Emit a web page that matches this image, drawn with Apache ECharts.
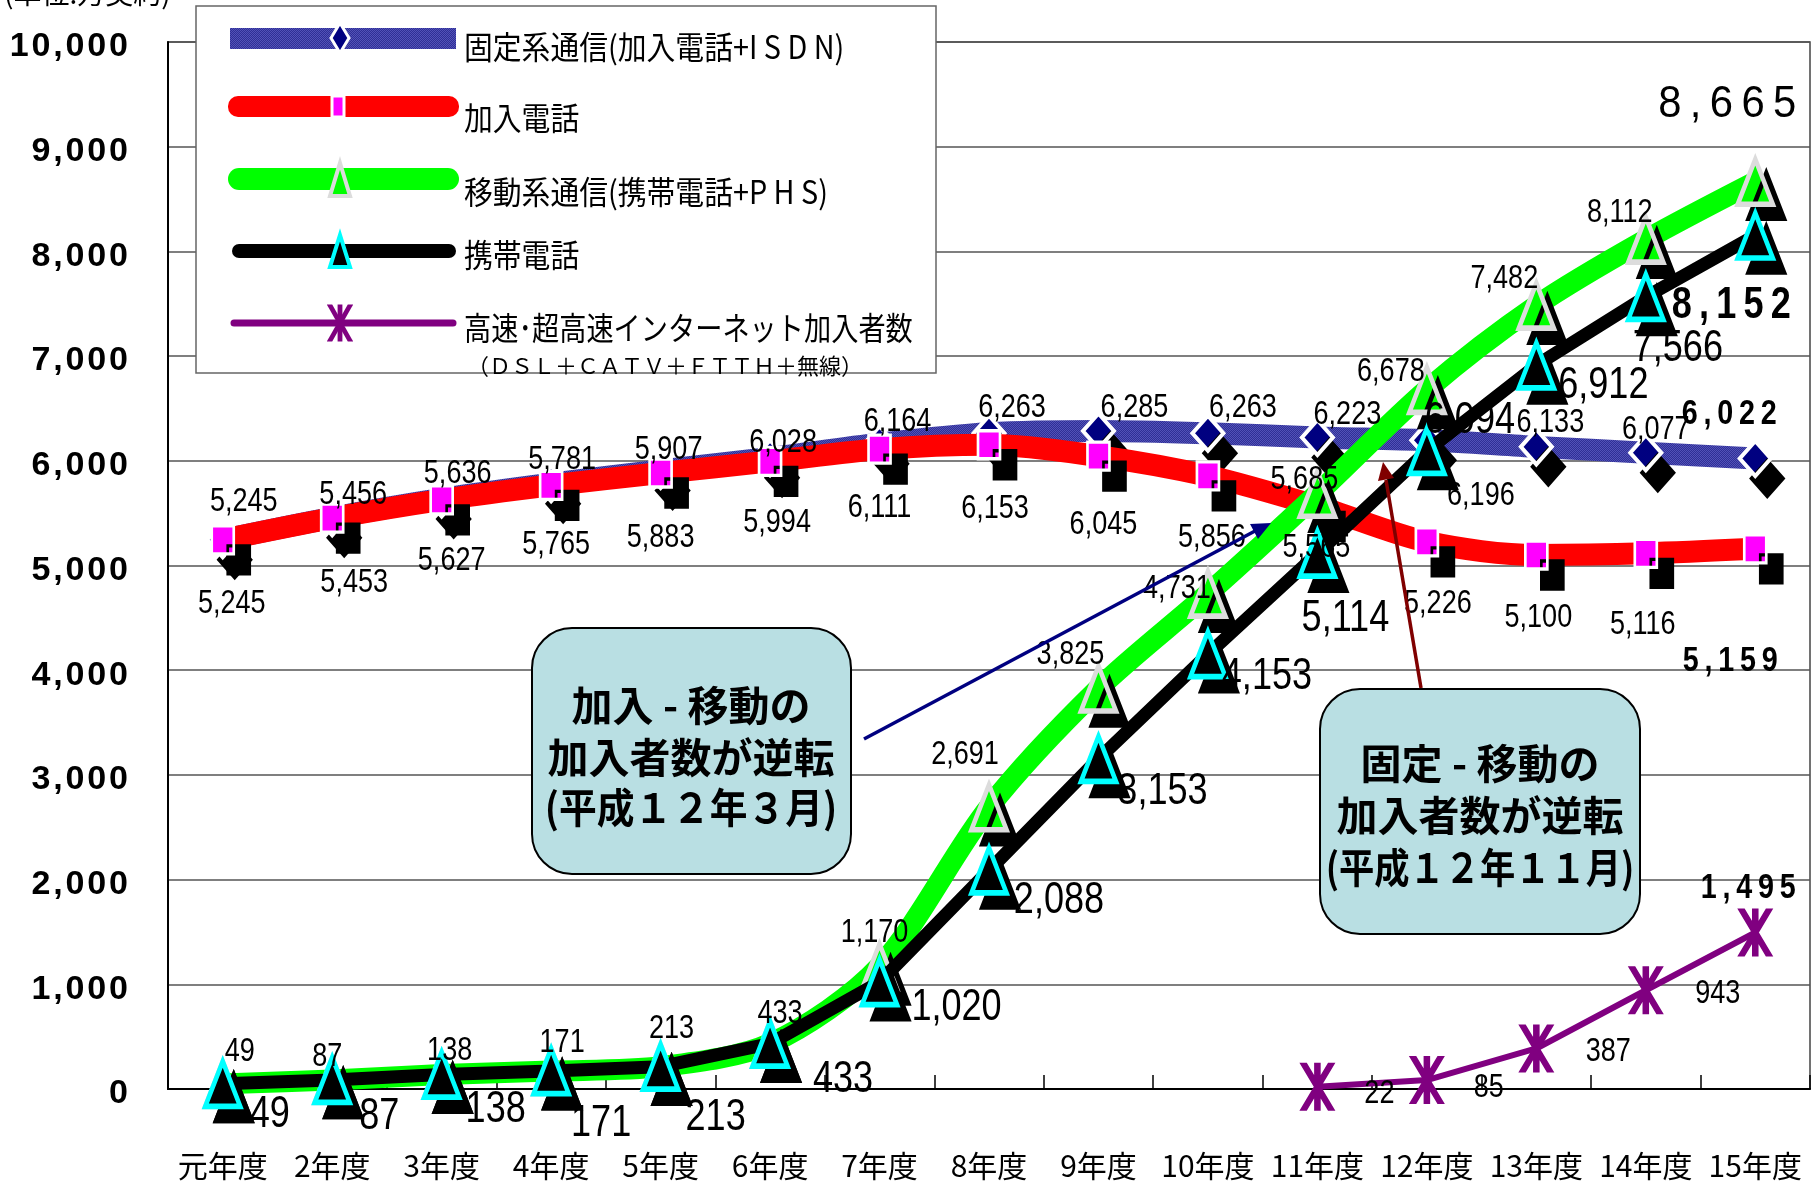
<!DOCTYPE html>
<html>
<head>
<meta charset="utf-8">
<script src="https://cdn.jsdelivr.net/npm/echarts@6/dist/echarts.min.js"></script>
<style>
html, body { margin: 0; padding: 0; background: #fff; }
#chart { width: 1818px; height: 1184px; }
</style>
</head>
<body>
<div id="chart"></div>
<script>
// Fiscal years (平成元年度 - 15年度)
const categories = ['元年度', '2年度', '3年度', '4年度', '5年度', '6年度', '7年度', '8年度',
  '9年度', '10年度', '11年度', '12年度', '13年度', '14年度', '15年度'];

// Subscribers, 万契約
const fixedTotal = [5245, 5456, 5636, 5781, 5907, 6028, 6164, 6263, 6285, 6263, 6223, 6196, 6133, 6077, 6022];
const subscriberPhone = [5245, 5453, 5627, 5765, 5883, 5994, 6111, 6153, 6045, 5856, 5565, 5226, 5100, 5116, 5159];
const mobileTotal = [49, 87, 138, 171, 213, 433, 1170, 2691, 3825, 4731, 5685, 6678, 7482, 8112, 8665];
const cellular = [49, 87, 138, 171, 213, 433, 1020, 2088, 3153, 4153, 5114, 6094, 6912, 7566, 8152];
const broadband = [null, null, null, null, null, null, null, null, null, null, 22, 85, 387, 943, 1495];

// Value axis
const yMin = 0, yMax = 10000, yStep = 1000;

// Label placement (pixel offsets from each point)
const fixedLabelOffsets = [[21,-38],[21,-23],[16,-25],[11,-24],[8,-21],[13,-15],[18,-22],[23,-25],[36,-23],[35,-25],[30,-23],[54,56],[14,-24],[10,-23],[-26,-44]];
const phoneLabelOffsets = [[9,64],[22,65],[10,61],[5,60],[0,65],[7,61],[0,59],[6,64],[5,69],[4,62],[-1,42],[11,62],[2,63],[-3,72],[-25,112]];
const mobileLabelOffsets = [[17,-32],[-5,-23],[8,-24],[11,-28],[11,-38],[10,-30],[-5,-34],[-24,-52],[-28,-34],[-31,-5],[-13,-14],[-36,-18],[-32,-27],[-26,-27],[-28,-77]];
const cellLabelOffsets = [[47,31],[47,37],[54,35],[50,53],[55,51],[73,36],[77,26],[70,30],[64,33],[59,23],[28,65],[43,-30],[67,21],[32,52],[-24,70]];
const bbLabelOffsets = [null,null,null,null,null,null,null,null,null,null,[62,7],[62,8],[72,3],[72,4],[-7,-44]];

const NUM_FONT = "'Liberation Sans', Arial, sans-serif";
const JP_FONT = "'Noto Sans CJK JP', 'Noto Sans CJK SC', sans-serif";

const fmt = v => v.toLocaleString('en-US');
const spaced = (s, sep) => s.split('').join(sep || '\u2009');

// fine blue texture for the fixed-line band
function makeTexture() {
  const c = document.createElement('canvas');
  c.width = 2; c.height = 2;
  const g = c.getContext('2d');
  g.fillStyle = '#2f2f96'; g.fillRect(0, 0, 2, 2);
  g.fillStyle = '#5252b8'; g.fillRect(0, 0, 1, 1); g.fillRect(1, 1, 1, 1);
  return c;
}
const navyTexture = { image: makeTexture(), repeat: 'repeat' };

const ASTERISK = 'path://M42 0H58V100H42Z M6 0L24 0L94 100L76 100Z M76 0L94 0L24 100L6 100Z';

function shadowed(color, border, bw, sx, sy) {
  return { color: color, borderColor: border, borderWidth: bw,
    shadowColor: '#000', shadowBlur: 0, shadowOffsetX: sx, shadowOffsetY: sy };
}

// value labels: a custom series placed on top, drawn in a condensed face
function labelSeries(values, offsets, style, endStyle) {
  const last = values.length - 1;
  const data = [];
  values.forEach((v, i) => { if (v != null) data.push([i, v]); });
  return {
    type: 'custom', z: 20, silent: true, animation: false,
    coordinateSystem: 'cartesian2d',
    encode: { x: 0, y: 1 },
    data: data,
    renderItem: (params, api) => {
      const i = api.value(0), v = api.value(1);
      const p = api.coord([i, v]);
      const st = i === last ? Object.assign({}, style, endStyle) : style;
      const off = offsets[i];
      return {
        type: 'text', x: p[0] + off[0], y: p[1] + off[1], scaleX: st.scaleX,
        style: {
          text: i === last ? spaced(fmt(v)) : fmt(v),
          font: (st.fontWeight || 'normal') + ' ' + st.fontSize + 'px ' + NUM_FONT,
          fill: '#000', align: 'center', verticalAlign: 'middle'
        }
      };
    }
  };
}

const smallLbl = { fontSize: 33, scaleX: 0.82 };
const bigLbl = { fontSize: 44, scaleX: 0.82 };

const chart = echarts.init(document.getElementById('chart'), null, { renderer: 'canvas' });

// legend asterisk built from three bars
function legendAsterisk(cx, cy, w, h, color) {
  const x0 = cx - w / 2, y0 = cy - h / 2;
  const P = (u, v) => [x0 + u * w / 100, y0 + v * h / 100];
  const bars = [
    [P(42, 0), P(58, 0), P(58, 100), P(42, 100)],
    [P(6, 0), P(24, 0), P(94, 100), P(76, 100)],
    [P(76, 0), P(94, 0), P(24, 100), P(6, 100)]
  ];
  return bars.map(pts => ({ type: 'polygon', shape: { points: pts }, style: { fill: color }, z: 102 }));
}

const legendX = 464;
const graphics = [
  // unit caption (clipped at the top edge)
  { type: 'text', x: 4, y: -21, style: { text: '(単位:万契約)', font: '28px ' + JP_FONT, fill: '#000', textVerticalAlign: 'top' }, z: 100 },
  // legend frame
  { type: 'rect', shape: { x: 196, y: 6, width: 740, height: 367 }, style: { fill: '#fff', stroke: '#666', lineWidth: 1.5 }, z: 100 },
  { type: 'rect', shape: { x: 230, y: 28, width: 226, height: 21 }, style: { fill: navyTexture }, z: 101 },
  { type: 'polygon', shape: { points: [[340, 23], [349, 38], [340, 53], [331, 38]] }, style: { fill: '#000080', stroke: '#fff', lineWidth: 3 }, z: 102 },
  { type: 'text', x: legendX, y: 47, scaleX: 0.9, style: { text: '固定系通信(加入電話+I S D N)', font: '32px ' + JP_FONT, fill: '#000', textVerticalAlign: 'middle' }, z: 102 },
  { type: 'rect', shape: { x: 228, y: 96, width: 231, height: 21, r: 10 }, style: { fill: '#ff0000' }, z: 101 },
  { type: 'rect', shape: { x: 332, y: 96, width: 12, height: 21 }, style: { fill: '#ff00ff', stroke: '#fff', lineWidth: 3 }, z: 102 },
  { type: 'text', x: legendX, y: 118, scaleX: 0.9, style: { text: '加入電話', font: '32px ' + JP_FONT, fill: '#000', textVerticalAlign: 'middle' }, z: 102 },
  { type: 'rect', shape: { x: 228, y: 168, width: 231, height: 22, r: 11 }, style: { fill: '#00ff00' }, z: 101 },
  { type: 'polygon', shape: { points: [[340, 163], [350, 196], [330, 196]] }, style: { fill: '#00ff00', stroke: '#dcdcdc', lineWidth: 4 }, z: 102 },
  { type: 'text', x: legendX, y: 192, scaleX: 0.9, style: { text: '移動系通信(携帯電話+P H S)', font: '32px ' + JP_FONT, fill: '#000', textVerticalAlign: 'middle' }, z: 102 },
  { type: 'rect', shape: { x: 232, y: 244, width: 224, height: 14, r: 7 }, style: { fill: '#000' }, z: 101 },
  { type: 'polygon', shape: { points: [[340, 235], [350, 267], [330, 267]] }, style: { fill: '#000', stroke: '#00ffff', lineWidth: 4 }, z: 102 },
  { type: 'text', x: legendX, y: 255, scaleX: 0.9, style: { text: '携帯電話', font: '32px ' + JP_FONT, fill: '#000', textVerticalAlign: 'middle' }, z: 102 },
  { type: 'line', shape: { x1: 234, y1: 323, x2: 453, y2: 323 }, style: { stroke: '#800080', lineWidth: 7, lineCap: 'round' }, z: 101 }
].concat(legendAsterisk(340, 323, 30, 37, '#800080')).concat([
  { type: 'text', x: legendX, y: 328, scaleX: 0.85, style: { text: '高速･超高速インターネット加入者数', font: '32px ' + JP_FONT, fill: '#000', textVerticalAlign: 'middle' }, z: 102 },
  { type: 'text', x: 467, y: 366, style: { text: '（ＤＳＬ＋ＣＡＴＶ＋ＦＴＴＨ＋無線）', font: '22px ' + JP_FONT, fill: '#000', textVerticalAlign: 'middle' }, z: 102 },

  // callout: 加入-移動
  { type: 'rect', shape: { x: 532, y: 628, width: 319, height: 246, r: 40 }, style: { fill: '#b9dfe3', stroke: '#000', lineWidth: 2 }, z: 60 },
  { type: 'text', x: 691, y: 705, style: { text: '加入 - 移動の', font: 'bold 41px ' + JP_FONT, fill: '#000', textAlign: 'center', textVerticalAlign: 'middle' }, z: 61 },
  { type: 'text', x: 691, y: 757, style: { text: '加入者数が逆転', font: 'bold 41px ' + JP_FONT, fill: '#000', textAlign: 'center', textVerticalAlign: 'middle' }, z: 61 },
  { type: 'text', x: 691, y: 807, scaleX: 0.92, style: { text: '(平成１２年３月)', font: 'bold 41px ' + JP_FONT, fill: '#000', textAlign: 'center', textVerticalAlign: 'middle' }, z: 61 },
  { type: 'line', shape: { x1: 864, y1: 739, x2: 1255, y2: 531 }, style: { stroke: '#000080', lineWidth: 3.5 }, z: 61 },
  { type: 'polygon', shape: { points: [[1271, 523], [1258, 539], [1250, 524]] }, style: { fill: '#000080' }, z: 61 },

  // callout: 固定-移動
  { type: 'rect', shape: { x: 1320, y: 689, width: 320, height: 245, r: 40 }, style: { fill: '#b9dfe3', stroke: '#000', lineWidth: 2 }, z: 60 },
  { type: 'text', x: 1480, y: 763, style: { text: '固定 - 移動の', font: 'bold 41px ' + JP_FONT, fill: '#000', textAlign: 'center', textVerticalAlign: 'middle' }, z: 61 },
  { type: 'text', x: 1480, y: 815, style: { text: '加入者数が逆転', font: 'bold 41px ' + JP_FONT, fill: '#000', textAlign: 'center', textVerticalAlign: 'middle' }, z: 61 },
  { type: 'text', x: 1480, y: 867, scaleX: 0.86, style: { text: '(平成１２年１１月)', font: 'bold 41px ' + JP_FONT, fill: '#000', textAlign: 'center', textVerticalAlign: 'middle' }, z: 61 },
  { type: 'line', shape: { x1: 1421, y1: 688, x2: 1386, y2: 480 }, style: { stroke: '#800000', lineWidth: 3.5 }, z: 61 },
  { type: 'polygon', shape: { points: [[1383, 462], [1394, 478], [1378, 481]] }, style: { fill: '#800000' }, z: 61 }
]);

const option = {
  animation: false,
  backgroundColor: '#fff',
  grid: { left: 168, right: 8, top: 42, bottom: 95, containLabel: false, outerBoundsMode: 'none',
    show: true, borderColor: '#444', borderWidth: 1.5, backgroundColor: 'transparent' },
  xAxis: {
    type: 'category', data: categories, boundaryGap: true,
    axisLine: { lineStyle: { color: '#000', width: 2 } },
    axisTick: { show: true, inside: true, length: 14, lineStyle: { color: '#000', width: 1.5 } },
    axisLabel: { interval: 0, margin: 62, fontSize: 30, fontFamily: JP_FONT, color: '#000' },
    splitLine: { show: false }
  },
  yAxis: {
    type: 'value', min: yMin, max: yMax, interval: yStep,
    axisLine: { show: true, lineStyle: { color: '#000', width: 2 } },
    axisTick: { show: false },
    axisLabel: { margin: 40, color: '#000',
      formatter: v => '{t|' + spaced(fmt(v), '\u200A') + '}',
      rich: { t: { fontSize: 34, fontWeight: 'bold', fontFamily: NUM_FONT, color: '#000', padding: [10, 0, 0, 0] } } },
    splitLine: { show: true, lineStyle: { color: '#555', width: 1.5 } }
  },
  series: [
    { type: 'line', name: '固定系通信(加入電話+ISDN)', data: fixedTotal, z: 2, smooth: 0.3, silent: true,
      lineStyle: { width: 22, color: navyTexture },
      symbol: 'diamond', symbolSize: [31, 35], showAllSymbol: true,
      itemStyle: shadowed('#000080', '#fff', 4, 12, 20) },
    { type: 'line', name: '加入電話', data: subscriberPhone, z: 3, smooth: 0.3, silent: true,
      lineStyle: { width: 22, color: '#ff0000' },
      symbol: 'rect', symbolSize: [22, 28], showAllSymbol: true,
      itemStyle: shadowed('#ff00ff', '#fff', 3, 16, 20) },
    { type: 'line', name: '移動系通信(携帯電話+PHS)', data: mobileTotal, z: 4, smooth: 0.3, silent: true,
      lineStyle: { width: 21, color: '#00ff00' },
      symbol: 'triangle', symbolSize: [35, 45], showAllSymbol: true,
      itemStyle: shadowed('#00ff00', '#dcdcdc', 5, 11, 14) },
    { type: 'line', name: '携帯電話', data: cellular, z: 5, silent: true,
      lineStyle: { width: 13, color: '#000' },
      symbol: 'triangle', symbolSize: [35, 45], showAllSymbol: true,
      itemStyle: shadowed('#000', '#00ffff', 5, 11, 14) },
    { type: 'line', name: '高速・超高速インターネット加入者数', data: broadband, z: 6, silent: true,
      lineStyle: { width: 6, color: '#800080' },
      symbol: ASTERISK, symbolSize: [36, 48], showAllSymbol: true,
      itemStyle: { color: '#800080' } },

    labelSeries(fixedTotal, fixedLabelOffsets, smallLbl, { fontSize: 35, fontWeight: 'bold', scaleX: 0.82 }),
    labelSeries(subscriberPhone, phoneLabelOffsets, smallLbl, { fontSize: 35, fontWeight: 'bold', scaleX: 0.82 }),
    labelSeries(mobileTotal, mobileLabelOffsets, smallLbl, { fontSize: 44, scaleX: 0.95 }),
    labelSeries(cellular, cellLabelOffsets, bigLbl, { fontSize: 44, fontWeight: 'bold', scaleX: 0.82 }),
    labelSeries(broadband, bbLabelOffsets, smallLbl, { fontSize: 35, fontWeight: 'bold', scaleX: 0.82 })
  ],
  graphic: graphics
};

chart.setOption(option);
</script>
</body>
</html>
